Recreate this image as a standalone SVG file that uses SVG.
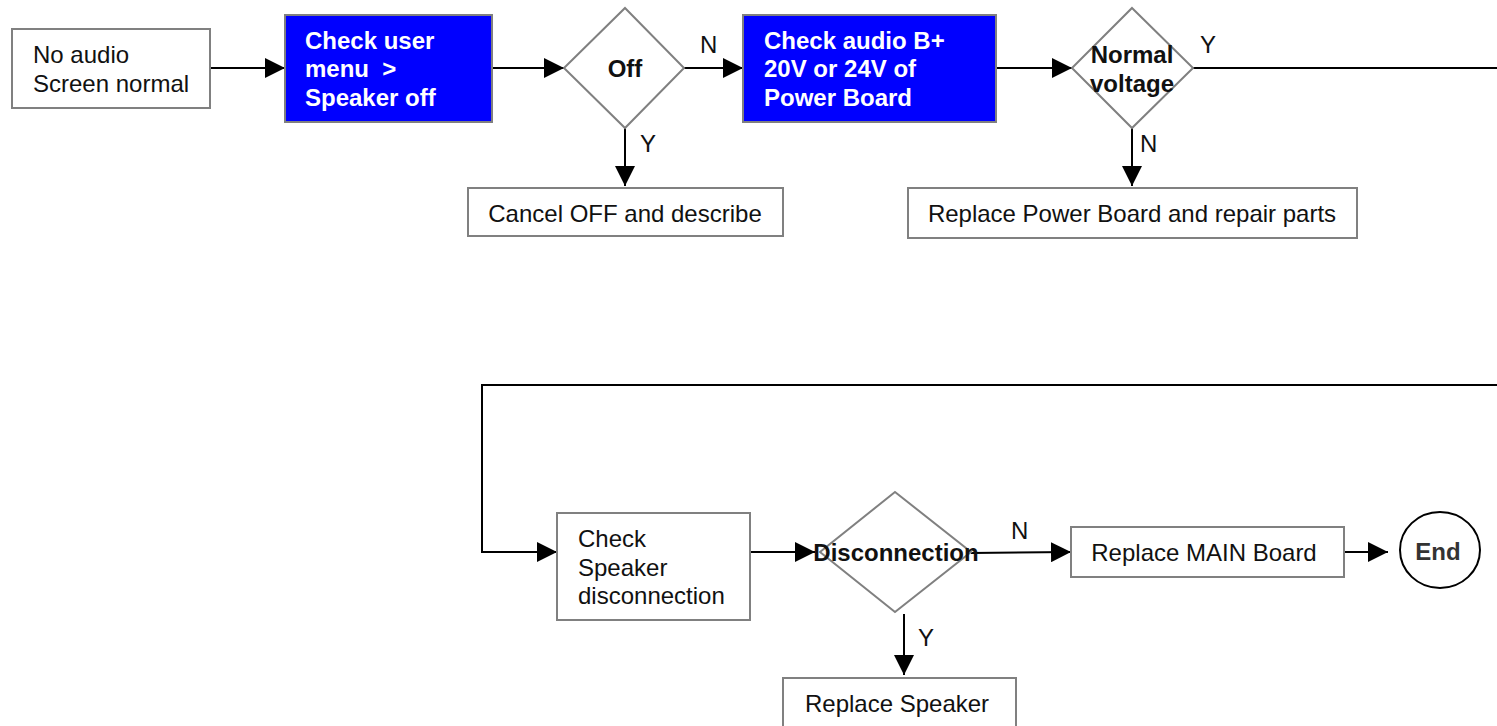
<svg xmlns="http://www.w3.org/2000/svg" width="1497" height="726" viewBox="0 0 1497 726">
<defs>
<style>
.box{fill:#fff;stroke:#808080;stroke-width:2}
.blue{fill:#0000ff;stroke:#808080;stroke-width:2}
.dia{fill:#fff;stroke:#808080;stroke-width:2}
.t{font-family:"Liberation Sans",Arial,sans-serif;font-size:24px;fill:#111}
.tb{font-family:"Liberation Sans",Arial,sans-serif;font-size:24px;font-weight:bold;fill:#111}
.tw{font-family:"Liberation Sans",Arial,sans-serif;font-size:24px;font-weight:bold;fill:#fff;white-space:pre}
.c{fill:none;stroke:#000;stroke-width:2}
</style>
<marker id="ah" viewBox="0 0 20 20" refX="20" refY="10" markerWidth="20" markerHeight="20" markerUnits="userSpaceOnUse" orient="auto">
<path d="M0,0 L20,10 L0,20 Z" fill="#000"/>
</marker>
</defs>
<rect width="1497" height="726" fill="#fff"/>
<g id="connectors">
<line class="c" x1="210" y1="68" x2="285" y2="68" marker-end="url(#ah)"/>
<line class="c" x1="492" y1="68" x2="564" y2="68" marker-end="url(#ah)"/>
<line class="c" x1="684" y1="68" x2="743" y2="68" marker-end="url(#ah)"/>
<line class="c" x1="625" y1="128" x2="625" y2="186" marker-end="url(#ah)"/>
<line class="c" x1="996" y1="68" x2="1072" y2="68" marker-end="url(#ah)"/>
<line class="c" x1="1132" y1="128" x2="1132" y2="186" marker-end="url(#ah)"/>
<line class="c" x1="1193" y1="68" x2="1497" y2="68"/>
<polyline class="c" points="1497,385 482,385 482,552 557,552" marker-end="url(#ah)"/>
<line class="c" x1="750" y1="552" x2="815" y2="552" marker-end="url(#ah)"/>
<line class="c" x1="971" y1="553" x2="1071" y2="552" marker-end="url(#ah)"/>
<line class="c" x1="1344" y1="552" x2="1388" y2="552" marker-end="url(#ah)"/>
<line class="c" x1="904" y1="614" x2="904" y2="675" marker-end="url(#ah)"/>
<text class="t" x="700" y="53">N</text>
<text class="t" x="640" y="152">Y</text>
<text class="t" x="1200" y="53">Y</text>
<text class="t" x="1140" y="152">N</text>
<text class="t" x="1011" y="539">N</text>
<text class="t" x="918" y="646">Y</text>
</g>
<g id="n_start">
<rect class="box" x="12" y="29" width="198" height="79"/>
<text class="t" x="33" y="63">No audio</text>
<text class="t" x="33" y="92">Screen normal</text>
</g>
<g id="n_checkmenu">
<rect class="blue" x="285" y="15" width="207" height="107"/>
<text class="tw" x="305" y="49">Check user</text>
<text class="tw" x="305" y="77" xml:space="preserve">menu  &gt;</text>
<text class="tw" x="305" y="106">Speaker off</text>
</g>
<g id="n_off">
<polygon class="dia" points="625,8 684,68 625,128 564,68"/>
<text class="tb" x="625" y="77" text-anchor="middle">Off</text>
</g>
<g id="n_cancel">
<rect class="box" x="468" y="188" width="315" height="48"/>
<text class="t" x="625" y="222" text-anchor="middle">Cancel OFF and describe</text>
</g>
<g id="n_checkaudio">
<rect class="blue" x="743" y="15" width="253" height="107"/>
<text class="tw" x="764" y="49">Check audio B+</text>
<text class="tw" x="764" y="77">20V or 24V of</text>
<text class="tw" x="764" y="106">Power Board</text>
</g>
<g id="n_normal">
<polygon class="dia" points="1132,8 1193,68 1132,128 1072,68"/>
<text class="tb" x="1132" y="63" text-anchor="middle">Normal</text>
<text class="tb" x="1132" y="92" text-anchor="middle">voltage</text>
</g>
<g id="n_replacepower">
<rect class="box" x="908" y="188" width="449" height="50"/>
<text class="t" x="1132" y="222" text-anchor="middle">Replace Power Board and repair parts</text>
</g>
<g id="n_checkspeaker">
<rect class="box" x="557" y="513" width="193" height="107"/>
<text class="t" x="578" y="547">Check</text>
<text class="t" x="578" y="576">Speaker</text>
<text class="t" x="578" y="604">disconnection</text>
</g>
<g id="n_disconnection">
<polygon class="dia" points="895,492 971,552 895,612 820,552"/>
<text class="tb" x="896" y="561" text-anchor="middle">Disconnection</text>
</g>
<g id="n_replacemain">
<rect class="box" x="1071" y="527" width="273" height="50"/>
<text class="t" x="1204" y="561" text-anchor="middle">Replace MAIN Board</text>
</g>
<g id="n_end">
<ellipse cx="1440" cy="550" rx="40" ry="38" fill="#fff" stroke="#000" stroke-width="2"/>
<text class="tb" x="1438" y="560" text-anchor="middle" style="fill:#333">End</text>
</g>
<g id="n_replacespeaker">
<rect class="box" x="783" y="678" width="233" height="60"/>
<text class="t" x="805" y="712">Replace Speaker</text>
</g>
</svg>
